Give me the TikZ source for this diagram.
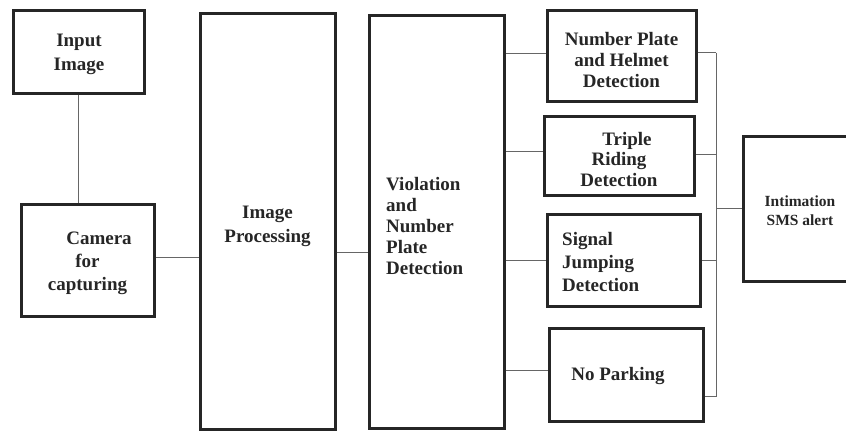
\documentclass[tikz,border=0pt]{standalone}
\usepackage{fontspec}
\setmainfont{Liberation Serif}
\begin{document}
\begin{tikzpicture}[x=1pt,y=-1pt,
  box/.style={draw=black!85, line width=3pt, inner sep=0pt},
  lbl/.style={inner sep=0pt, align=left, font=\fontsize{19}{21.5}\selectfont\bfseries, text=black!85},
  conn/.style={draw=black!60, line width=1pt}]
\useasboundingbox (0,0) rectangle (846,431);
\clip (0,0) rectangle (846,431);
% boxes
\node[box, minimum width=131pt, minimum height=83pt] (inp) at (78.5,51.5) {};
\node[lbl, align=center, font=\fontsize{19}{24}\selectfont\bfseries] (inpt) at (79,54) {Input\\Image};
\node[box, minimum width=133pt, minimum height=112pt] (cam) at (87.5,260) {};
\node[lbl, align=center, font=\fontsize{19}{23}\selectfont\bfseries] (camt) at (87.5,263) {\hspace*{23pt}Camera\\for\\capturing};
\node[box, minimum width=135pt, minimum height=416pt] (imp) at (267.5,221) {};
\node[lbl, align=center, font=\fontsize{19}{24}\selectfont\bfseries] (impt) at (267.5,226) {Image\\Processing};
\node[box, minimum width=135pt, minimum height=413pt] (vio) at (436.5,221.5) {};
\node[lbl, anchor=west, font=\fontsize{19}{20.8}\selectfont\bfseries] (viot) at (386,226) {Violation\\and\\Number\\Plate\\Detection};
\node[box, minimum width=149pt, minimum height=91pt] (np) at (621.5,55.5) {};
\node[lbl, align=center] (npt) at (621.5,60) {Number Plate\\and Helmet\\Detection};
\node[box, minimum width=150pt, minimum height=79pt] (tr) at (619,155.5) {};
\node[lbl, align=center, font=\fontsize{19}{20.5}\selectfont\bfseries] (trt) at (619,159) {\hspace*{16pt}Triple\\Riding\\Detection};
\node[box, minimum width=153pt, minimum height=92pt] (sg) at (623.5,260) {};
\node[lbl, anchor=west, font=\fontsize{19}{23}\selectfont\bfseries] (sgt) at (562,262) {Signal\\Jumping\\Detection};
\node[box, minimum width=154pt, minimum height=93pt] (npk) at (626,374.5) {};
\node[lbl] (npkt) at (618,376) {No Parking};
\node[box, minimum width=114pt, minimum height=145pt] (sms) at (800,208.5) {};
\node[lbl, align=center, font=\fontsize{15.5}{19}\selectfont\bfseries] (smst) at (800,210.5) {Intimation\\SMS alert};
% connectors
\draw[conn] (inp.south) -- (inp.south |- cam.north);
\draw[conn] ([yshift=3pt]cam.east) -- ([yshift=3pt]cam.east -| imp.west);
\draw[conn] ([yshift=-31pt]imp.east) -- ([yshift=-31pt]imp.east -| vio.west);
\draw[conn] ([yshift=2pt]np.west -| vio.east) -- ([yshift=2pt]np.west);
\draw[conn] ([yshift=4pt]tr.west -| vio.east) -- ([yshift=4pt]tr.west);
\draw[conn] (sg.west -| vio.east) -- (sg.west);
\draw[conn] ([yshift=4pt]npk.west -| vio.east) -- ([yshift=4pt]npk.west);
\coordinate (bus) at (716,208.5);
\coordinate (npkr) at ([yshift=-22pt]npk.east);
\draw[conn] ([yshift=3pt]np.east) -- ([yshift=3pt]np.east -| bus);
\draw[conn] ([yshift=1pt]tr.east) -- ([yshift=1pt]tr.east -| bus);
\draw[conn] (sg.east) -- (sg.east -| bus);
\draw[conn] (npkr) -- (npkr -| bus);
\draw[conn] ([yshift=3pt]np.east -| bus) -- (npkr -| bus);
\draw[conn] (bus) -- (sms.west);
\end{tikzpicture}
\end{document}
